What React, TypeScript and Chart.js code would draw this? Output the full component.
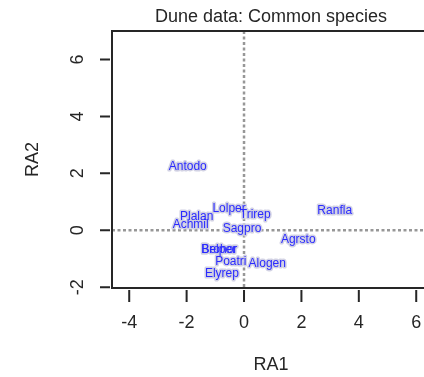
import { useEffect, useRef } from "react";
import { Chart, registerables } from "chart.js";

Chart.register(...registerables);

// Species scores on the first two RDA axes
const species = ["Antodo", "Lolper", "Trirep", "Ranfla", "Plalan", "Achmil", "Sagpro", "Agrsto", "Belper", "Brohor", "Poatri", "Alogen", "Elyrep"];
const ra1 = [-1.96, -0.52, 0.39, 3.16, -1.65, -1.86, -0.07, 1.89, -0.88, -0.86, -0.46, 0.81, -0.77];
const ra2 = [2.25, 0.77, 0.53, 0.67, 0.49, 0.18, 0.07, -0.35, -0.67, -0.68, -1.12, -1.19, -1.51];

const xTicks = [-4, -2, 0, 2, 4, 6];
const yTicks = [-2, 0, 2, 4, 6];
const xRange = [-4.6, 6.48];
const yRange = [-2.03, 7.0];

const titleText = "Dune data: Common species";
const FONT = '"Liberation Sans", Arial, sans-serif';
const INK = "#262626";

const rStyleFrame = {
  id: "rStyleFrame",
  beforeDatasetsDraw(chart: any) {
    const { ctx, chartArea: a, scales } = chart;
    const x0 = scales.x.getPixelForValue(0);
    const y0 = scales.y.getPixelForValue(0);
    ctx.save();
    ctx.strokeStyle = "#979797";
    ctx.lineWidth = 2.5;
    ctx.setLineDash([3, 2.5]);
    ctx.beginPath();
    ctx.moveTo(x0, a.top);
    ctx.lineTo(x0, a.bottom);
    ctx.moveTo(a.left, y0);
    ctx.lineTo(a.right, y0);
    ctx.stroke();
    ctx.restore();
  },
  afterDatasetsDraw(chart: any) {
    const { ctx } = chart;
    const meta = chart.getDatasetMeta(0);
    ctx.save();
    ctx.font = `12px ${FONT}`;
    ctx.textAlign = "center";
    ctx.textBaseline = "middle";
    ctx.lineJoin = "round";
    meta.data.forEach((el: any, i: number) => {
      ctx.strokeStyle = "rgba(205,205,225,0.9)";
      ctx.lineWidth = 3;
      ctx.strokeText(species[i], el.x, el.y);
    });
    meta.data.forEach((el: any, i: number) => {
      ctx.fillStyle = "#2b2bff";
      ctx.fillText(species[i], el.x, el.y);
    });
    ctx.restore();
  },
  afterDraw(chart: any) {
    const { ctx, chartArea: a, scales } = chart;
    ctx.save();
    // plot box
    ctx.strokeStyle = INK;
    ctx.lineWidth = 2;
    ctx.strokeRect(a.left, a.top, a.right - a.left, a.bottom - a.top);

    // axis ticks, drawn just outside the box
    ctx.fillStyle = INK;
    ctx.font = `18px ${FONT}`;
    ctx.textAlign = "center";
    ctx.textBaseline = "middle";
    ctx.beginPath();
    scales.x.ticks.forEach((t: any) => {
      const px = scales.x.getPixelForValue(t.value);
      ctx.moveTo(px, a.bottom + 2);
      ctx.lineTo(px, a.bottom + 14);
    });
    scales.y.ticks.forEach((t: any) => {
      const py = scales.y.getPixelForValue(t.value);
      ctx.moveTo(a.left - 2, py);
      ctx.lineTo(a.left - 12, py);
    });
    ctx.stroke();
    scales.x.ticks.forEach((t: any) => {
      const px = scales.x.getPixelForValue(t.value);
      ctx.fillText(String(t.value), px, a.bottom + 35);
    });
    // y labels read bottom to top
    scales.y.ticks.forEach((t: any) => {
      const py = scales.y.getPixelForValue(t.value);
      ctx.save();
      ctx.translate(a.left - 34, py);
      ctx.rotate(-Math.PI / 2);
      ctx.fillText(String(t.value), 0, 0);
      ctx.restore();
    });

    // title
    ctx.font = `18px ${FONT}`;
    ctx.fillText(titleText, (a.left + a.right) / 2, 17);
    ctx.restore();
  },
};

export default function App() {
  const ref = useRef<HTMLCanvasElement | null>(null);

  useEffect(() => {
    if (!ref.current) return;
    const chart = new Chart(ref.current, {
      type: "scatter",
      data: {
        datasets: [
          {
            data: ra1.map((v, i) => ({ x: v, y: ra2[i] })),
            pointRadius: 0,
            pointHoverRadius: 0,
          },
        ],
      },
      options: {
        animation: false,
        responsive: false,
        events: [],
        layout: { padding: { top: 31, left: 0, right: 0, bottom: 0 } },
        plugins: { legend: { display: false }, tooltip: { enabled: false }, title: { display: false } },
        scales: {
          x: {
            type: "linear",
            min: xRange[0],
            max: xRange[1],
            afterBuildTicks: (s: any) => {
              s.ticks = xTicks.map((v) => ({ value: v }));
            },
            afterFit: (s: any) => {
              s.height = 89;
            },
            grid: { display: false },
            border: { display: false },
            ticks: { display: false },
            title: { display: true, text: "RA1", color: INK, font: { family: FONT, size: 18 }, padding: { top: 0, bottom: 1 } },
          },
          y: {
            type: "linear",
            min: yRange[0],
            max: yRange[1],
            afterBuildTicks: (s: any) => {
              s.ticks = yTicks.map((v) => ({ value: v }));
            },
            afterFit: (s: any) => {
              s.width = 112;
            },
            grid: { display: false },
            border: { display: false },
            ticks: { display: false },
            title: { display: true, text: "RA2", color: INK, font: { family: FONT, size: 18 }, padding: { top: 22, bottom: 0 } },
          },
        },
      },
      plugins: [rStyleFrame],
    });
    return () => chart.destroy();
  }, []);

  return (
    <div style={{ position: "fixed", left: 0, top: 0, width: 424, height: 377, overflow: "hidden", background: "#fff" }}>
      <canvas ref={ref} width={430} height={377} style={{ display: "block", width: 430, height: 377 }} />
    </div>
  );
}
